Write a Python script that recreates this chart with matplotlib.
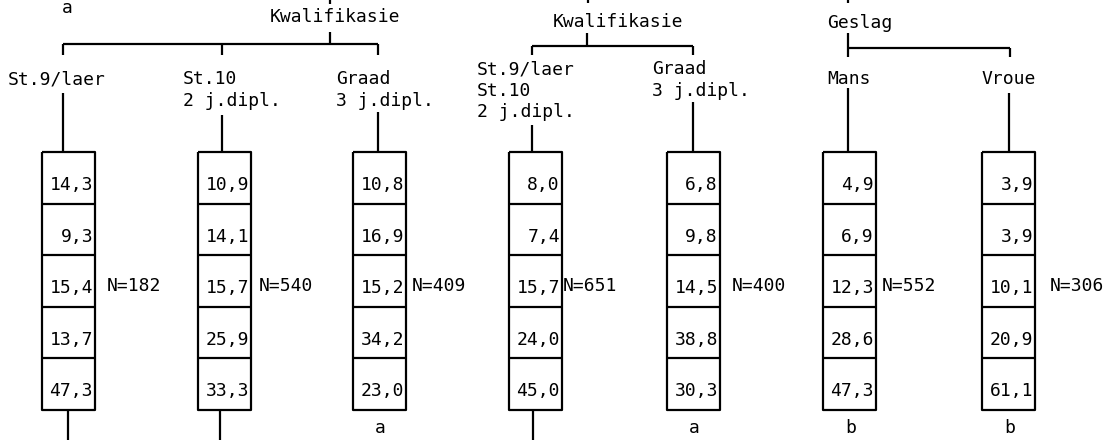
import matplotlib
matplotlib.use('Agg')
import matplotlib.pyplot as plt

# data: percentages per column (top cell to bottom cell)
col_labels = ['St.9/laer', 'St.10\n2 j.dipl.', 'Graad\n3 j.dipl.',
              'St.9/laer\nSt.10\n2 j.dipl.', 'Graad\n3 j.dipl.',
              'Mans', 'Vroue']
col1 = ['14,3', '9,3', '15,4', '13,7', '47,3']
col2 = ['10,9', '14,1', '15,7', '25,9', '33,3']
col3 = ['10,8', '16,9', '15,2', '34,2', '23,0']
col4 = ['8,0', '7,4', '15,7', '24,0', '45,0']
col5 = ['6,8', '9,8', '14,5', '38,8', '30,3']
col6 = ['4,9', '6,9', '12,3', '28,6', '47,3']
col7 = ['3,9', '3,9', '10,1', '20,9', '61,1']
values = [col1, col2, col3, col4, col5, col6, col7]
n_labels = ['N=182', 'N=540', 'N=409', 'N=651', 'N=400', 'N=552', 'N=306']
foot_marks = ['', '', 'a', '', 'a', 'b', 'b']
group_titles = ['Kwalifikasie', 'Kwalifikasie', 'Geslag']

# layout (pixels)
box_left = [42, 198, 353, 509, 667, 823, 982]
box_w = 53
stem_x = [63, 222, 378, 532, 693, 848, 1009]
label_x = [8, 183, 336, 477, 652, 827, 982]
label_top = [70, 70, 70, 60, 60, 70, 70]
stem_top = [93, 115, 112, 125, 102, 88, 93]
n_x = [107, 259, 412, 563, 732, 882, 1050]
tail_x = [68, 220, None, 533, None, None, None]
box_top, box_bot = 152, 410

fs = 13
mono = 'DejaVu Sans Mono'
lw = 1.6

fig = plt.figure(figsize=(11.08, 4.4), dpi=100)
ax = fig.add_axes([0, 0, 1, 1])
ax.set_xlim(0, 1108)
ax.set_ylim(440, 0)
ax.axis('off')

def line(xs, ys):
    ax.plot(xs, ys, color='black', lw=lw, solid_capstyle='butt')

ch = (box_bot - box_top) / 5.0
for i, vals in enumerate(values):
    x0 = box_left[i]
    x1 = x0 + box_w
    # box outline and cell dividers
    line([x0, x1, x1, x0, x0], [box_top, box_top, box_bot, box_bot, box_top])
    for k in range(1, 5):
        line([x0, x1], [box_top + k * ch] * 2)
    for k, v in enumerate(vals):
        ax.text(x1 - 2, box_top + (k + 0.64) * ch, v, ha='right', va='center',
                fontsize=fs, family=mono)
    ax.text(n_x[i], box_top + 2.6 * ch, n_labels[i], ha='left', va='center',
            fontsize=fs, family=mono)
    # column label and stem
    ax.text(label_x[i], label_top[i], col_labels[i], ha='left', va='top',
            fontsize=fs, family=mono, linespacing=1.25)
    line([stem_x[i], stem_x[i]], [stem_top[i], box_top])
    if tail_x[i] is not None:
        line([tail_x[i], tail_x[i]], [box_bot, 440])
    if foot_marks[i]:
        ax.text(x0 + box_w / 2 + 1, 428, foot_marks[i], ha='center', va='center',
                fontsize=fs, family=mono)

# group brackets
ax.text(67, 8, 'a', ha='center', va='center', fontsize=fs, family=mono)

# group 1
ax.text(335, 17, group_titles[0], ha='center', va='center', fontsize=fs, family=mono)
line([330, 330], [0, 4])
line([330, 330], [32, 44])
line([63, 378], [44, 44])
for x in stem_x[0:3]:
    line([x, x], [44, 55])

# group 2
ax.text(618, 22, group_titles[1], ha='center', va='center', fontsize=fs, family=mono)
line([588, 588], [0, 3])
line([587, 587], [33, 46])
line([532, 693], [46, 46])
for x in stem_x[3:5]:
    line([x, x], [46, 55])

# group 3
ax.text(827, 23, group_titles[2], ha='left', va='center', fontsize=fs, family=mono)
line([848, 848], [0, 3])
line([848, 848], [33, 57])
line([848, 1010], [48, 48])
line([1010, 1010], [48, 57])

fig.savefig('out.png', dpi=100)
